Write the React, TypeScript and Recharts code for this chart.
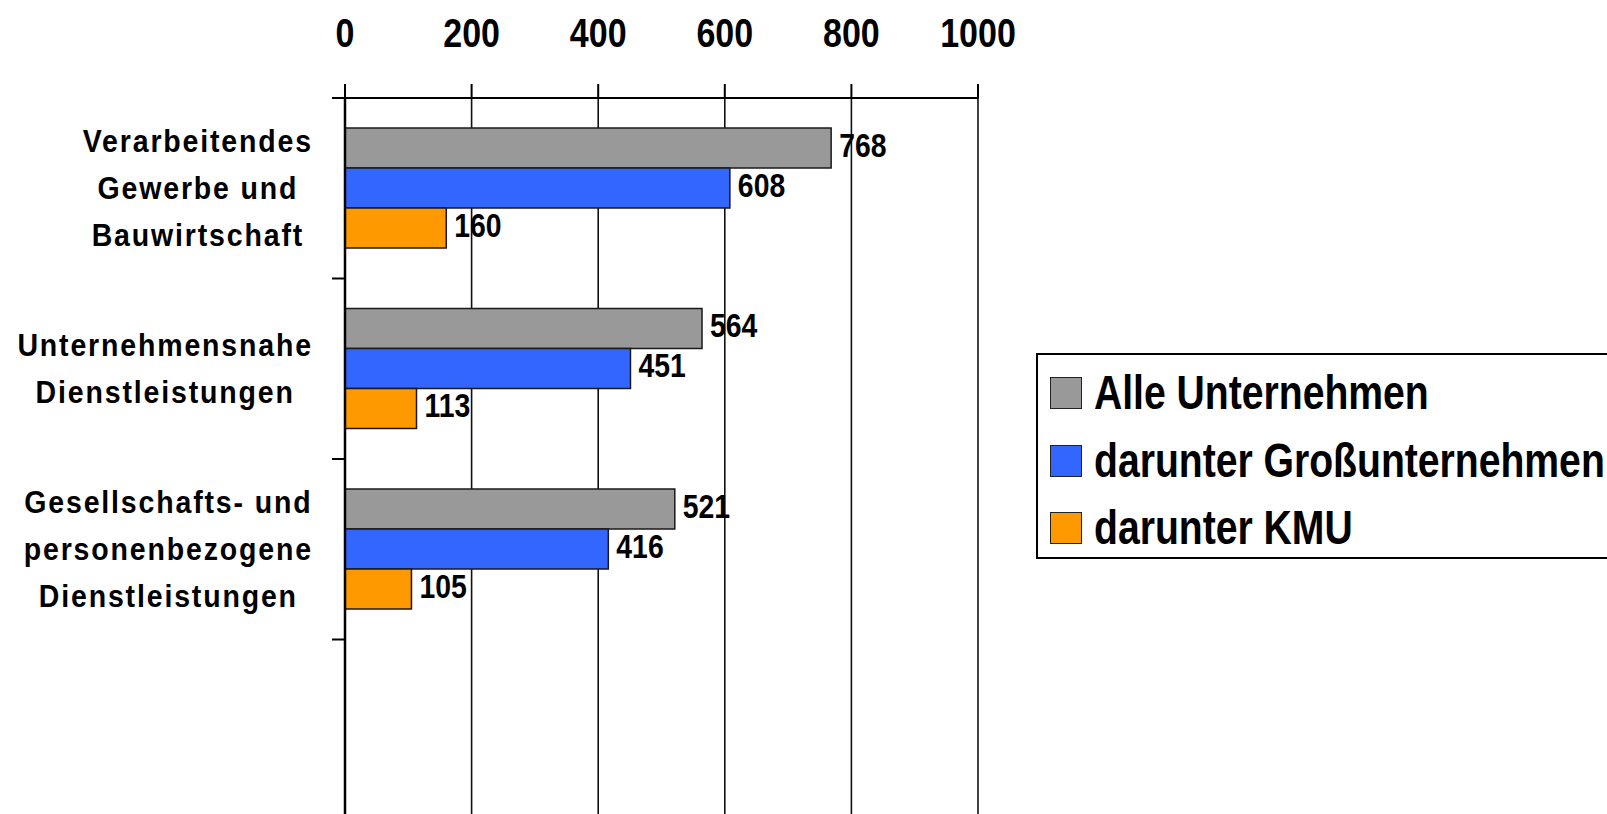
import React from 'react';
import { BarChart, Bar, XAxis, YAxis, CartesianGrid, LabelList, Legend } from 'recharts';

// Categories (line breaks mark the wrapped label lines); the last slot is an empty band
const categories = [
  'Verarbeitendes\nGewerbe und\nBauwirtschaft',
  'Unternehmensnahe\nDienstleistungen',
  'Gesellschafts- und\npersonenbezogene\nDienstleistungen',
  '',
];
const alleUnternehmen = [768, 564, 521, null];
const grossunternehmen = [608, 451, 416, null];
const kmu = [160, 113, 105, null];

const seriesKeys = ['alle', 'gross', 'kmu'];
const seriesNames = ['Alle Unternehmen', 'darunter Großunternehmen', 'darunter KMU'];
const seriesColors = ['#999999', '#3366FF', '#FF9900'];
const xTicks = [0, 200, 400, 600, 800, 1000];

const data = categories.map((name, i) => ({
  name,
  alle: alleUnternehmen[i],
  gross: grossunternehmen[i],
  kmu: kmu[i],
}));

const CHART_W = 1607;
const CHART_H = 820;
const X_AXIS_H = 98;
const Y_AXIS_W = 345;
const RIGHT_MARGIN = 629;
const FONT = "'Liberation Sans', Arial, Helvetica, sans-serif";

const CAT_FONT_SIZE = 31;
const CAT_LETTER_SPACING = 2;
const CAT_SCALE_X = 0.92;
const CAT_LINE_GAP = 47;
const CAT_BLOCK_RIGHT = 313;
const CAT_TICK_LEN = 13;

let measureCtx: CanvasRenderingContext2D | null = null;
function textWidth(s: string): number {
  if (!measureCtx) measureCtx = document.createElement('canvas').getContext('2d');
  const raw = measureCtx
    ? ((measureCtx.font = `bold ${CAT_FONT_SIZE}px 'Liberation Sans'`), measureCtx.measureText(s).width)
    : s.length * CAT_FONT_SIZE * 0.56;
  return (raw + s.length * CAT_LETTER_SPACING) * CAT_SCALE_X;
}

// Category label: centred multi-line block, right-aligned against the axis,
// with tick marks drawn on the band boundaries
function CategoryTick(props: any) {
  const { y, payload, index } = props;
  const half = (CHART_H - X_AXIS_H) / categories.length / 2;
  const lines = String(payload?.value ?? '').split('\n').filter((l) => l.length > 0);
  const maxW = lines.length ? Math.max(...lines.map(textWidth)) : 0;
  const cx = CAT_BLOCK_RIGHT - maxW / 2;
  const capH = 0.716 * CAT_FONT_SIZE;
  const isLast = index === categories.length - 1;
  return (
    <g>
      <line x1={Y_AXIS_W - CAT_TICK_LEN} x2={Y_AXIS_W} y1={y - half} y2={y - half} stroke="#000" strokeWidth={2} />
      {isLast && (
        <line x1={Y_AXIS_W - CAT_TICK_LEN} x2={Y_AXIS_W} y1={y + half} y2={y + half} stroke="#000" strokeWidth={2} />
      )}
      {lines.map((l, i) => (
        <g key={i} transform={`translate(${cx},${y + (i - (lines.length - 1) / 2) * CAT_LINE_GAP + capH / 2})`}>
          <text
            transform={`scale(${CAT_SCALE_X},1)`}
            textAnchor="middle"
            fontFamily={FONT}
            fontWeight="bold"
            fontSize={CAT_FONT_SIZE}
            letterSpacing={CAT_LETTER_SPACING}
            fill="#000"
          >
            {l}
          </text>
        </g>
      ))}
    </g>
  );
}

function ValueTick(props: any) {
  const { x, y, payload } = props;
  return (
    <g transform={`translate(${x},${y})`}>
      <text transform="scale(0.85,1)" textAnchor="middle" fontFamily={FONT} fontWeight="bold" fontSize={40} fill="#000">
        {payload.value}
      </text>
    </g>
  );
}

function ValueLabel(props: any) {
  const { x, y, width, height, value } = props;
  if (value === null || value === undefined) return null;
  const fs = 33;
  const tx = Number(x) + Number(width) + 8;
  const ty = Number(y) + Number(height) / 2 + (0.716 * fs) / 2 - 3;
  return (
    <g transform={`translate(${tx},${ty})`}>
      <text transform="scale(0.86,1)" fontFamily={FONT} fontWeight="bold" fontSize={fs} fill="#000">
        {value}
      </text>
    </g>
  );
}

function LegendBox() {
  return (
    <div
      style={{
        border: '2px solid #000',
        width: 640,
        height: 206,
        boxSizing: 'border-box',
        paddingTop: 4,
        background: '#fff',
      }}
    >
      {seriesNames.map((name, i) => (
        <div key={name} style={{ height: 67.7, display: 'flex', alignItems: 'center' }}>
          <span
            style={{
              width: 32,
              height: 32,
              boxSizing: 'border-box',
              border: '1.5px solid #222',
              background: seriesColors[i],
              marginLeft: 12,
              flex: 'none',
            }}
          />
          <span
            style={{
              marginLeft: 12,
              fontFamily: FONT,
              fontWeight: 'bold',
              fontSize: 48,
              lineHeight: '67.7px',
              whiteSpace: 'nowrap',
              display: 'inline-block',
              transform: 'scaleX(0.815)',
              transformOrigin: 'left center',
              color: '#000',
            }}
          >
            {name}
          </span>
        </div>
      ))}
    </div>
  );
}

export default function App() {
  return (
    <div
      style={{
        position: 'absolute',
        left: 0,
        top: 0,
        width: 1607,
        height: 814,
        overflow: 'hidden',
        background: '#fff',
      }}
    >
      <BarChart
        width={CHART_W}
        height={CHART_H}
        data={data}
        layout="vertical"
        margin={{ top: 0, right: RIGHT_MARGIN, bottom: 0, left: 0 }}
        barGap={0}
        barSize={40}
      >
        <CartesianGrid horizontal={false} vertical stroke="#111" strokeWidth={1.6} />
        <XAxis
          type="number"
          orientation="top"
          domain={[0, 1000]}
          ticks={xTicks}
          height={X_AXIS_H}
          tickSize={14}
          tickMargin={37}
          axisLine={{ stroke: '#000', strokeWidth: 2 }}
          tickLine={{ stroke: '#000', strokeWidth: 2 }}
          tick={<ValueTick />}
          interval={0}
        />
        <YAxis
          type="category"
          dataKey="name"
          width={Y_AXIS_W}
          tickSize={CAT_TICK_LEN}
          tickLine={false}
          axisLine={{ stroke: '#000', strokeWidth: 2.5 }}
          tick={<CategoryTick />}
          interval={0}
        />
        <Legend
          layout="horizontal"
          verticalAlign="middle"
          align="center"
          content={() => <LegendBox />}
          wrapperStyle={{ left: 1036, top: 353, width: 640, height: 206 }}
        />
        {seriesKeys.map((k, i) => (
          <Bar
            key={k}
            dataKey={k}
            name={seriesNames[i]}
            fill={seriesColors[i]}
            stroke="#1a1a1a"
            strokeWidth={1.5}
            isAnimationActive={false}
          >
            <LabelList dataKey={k} content={<ValueLabel />} />
          </Bar>
        ))}
      </BarChart>
    </div>
  );
}
